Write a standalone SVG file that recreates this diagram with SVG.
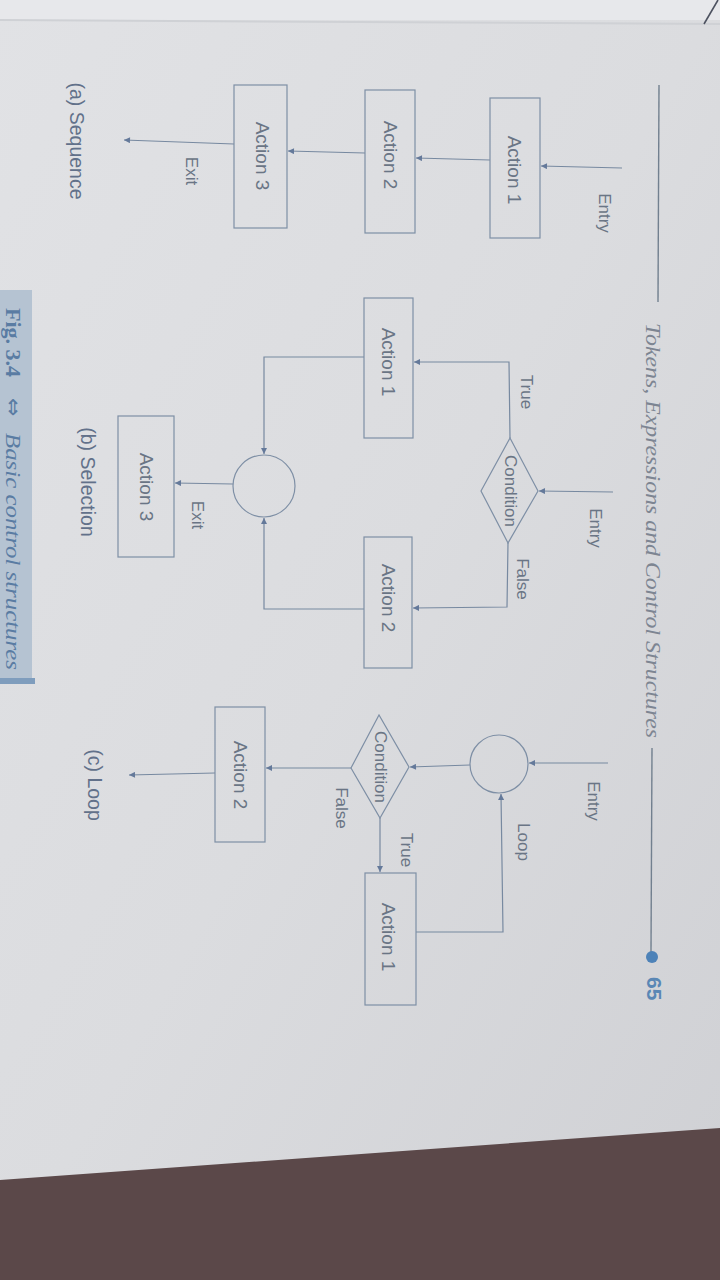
<svg xmlns="http://www.w3.org/2000/svg" width="720" height="1280" viewBox="0 0 720 1280">
  <defs>
    <linearGradient id="paper" x1="0" y1="0" x2="1" y2="1">
      <stop offset="0" stop-color="#e1e2e5"/>
      <stop offset="0.5" stop-color="#dbdcdf"/>
      <stop offset="1" stop-color="#cfd0d4"/>
    </linearGradient>
    <marker id="arr" viewBox="0 0 10 10" refX="10" refY="5" markerWidth="7" markerHeight="6" markerUnits="userSpaceOnUse" orient="auto">
      <path d="M0,0 L10,5 L0,10 z" fill="#64799a"/>
    </marker>
    <style>
      .ln { fill: none; stroke: #7789a0; stroke-width: 1.2; }
      .box { fill: none; stroke: #7e8fa5; stroke-width: 1.2; }
      .lbl { font-family: "Liberation Sans", Arial, sans-serif; fill: #6a7585; text-anchor: middle; dominant-baseline: central; }
      .act { font-size: 19px; }
      .sm { font-size: 17px; }
      .cap { font-size: 19.5px; fill: #62718a; }
      .hdr { font-family: "Liberation Serif", "Times New Roman", serif; font-style: italic; fill: #7d8592; }
      .fig { font-family: "Liberation Serif", "Times New Roman", serif; fill: #5a7ca3; font-size: 22px; }
      .sym { font-family: "DejaVu Sans", sans-serif; fill: #5a7ca3; font-size: 22px; }
    </style>
  </defs>

  <!-- paper and background -->
  <rect x="0" y="0" width="720" height="1280" fill="url(#paper)"/>
  <rect x="0" y="0" width="720" height="20" fill="#e7e8eb"/>
  <path d="M0,20 L720,24" stroke="#cfd1d5" stroke-width="2" fill="none"/>
  <path d="M704,24 Q711,12 718,0" stroke="#4d5260" stroke-width="1.6" fill="none"/>
  <polygon points="0,1180 720,1128 720,1280 0,1280" fill="#5b4849"/>

  <!-- page header -->
  <g id="header">
    <line x1="659" y1="85" x2="658" y2="302" stroke="#72808f" stroke-width="1.4"/>
    <text class="hdr" font-size="21" transform="translate(646,323) rotate(90)" textLength="415" lengthAdjust="spacingAndGlyphs">Tokens, Expressions and Control Structures</text>
    <line x1="652" y1="748" x2="651" y2="952" stroke="#72808f" stroke-width="1.4"/>
    <circle cx="652" cy="957" r="6" fill="#4d82b8"/>
    <text transform="translate(647,977) rotate(90)" font-family="Liberation Sans, Arial, sans-serif" font-weight="bold" font-size="21" fill="#5a87b5">65</text>
  </g>

  <!-- figure caption -->
  <g id="caption">
    <rect x="0" y="290" width="32" height="392" fill="#b5c3d2"/>
    <rect x="0" y="678" width="35" height="6" fill="#7f9dbd"/>
    <text class="fig" font-weight="bold" transform="translate(6,308) rotate(90)">Fig. 3.4</text>
    <text class="sym" transform="translate(6,398) rotate(90)">⇔</text>
    <text class="fig" font-style="italic" transform="translate(6,433) rotate(90)" textLength="237" lengthAdjust="spacingAndGlyphs">Basic control structures</text>
  </g>

  <!-- connectors -->
  <g id="connectors">
    <!-- (a) sequence -->
    <line class="ln" x1="622" y1="168" x2="541" y2="166" marker-end="url(#arr)"/>
    <line class="ln" x1="490" y1="160" x2="416" y2="158" marker-end="url(#arr)"/>
    <line class="ln" x1="365" y1="153" x2="288" y2="151" marker-end="url(#arr)"/>
    <line class="ln" x1="234" y1="144" x2="124" y2="140" marker-end="url(#arr)"/>
    <!-- (b) selection -->
    <line class="ln" x1="613" y1="492" x2="539" y2="491" marker-end="url(#arr)"/>
    <polyline class="ln" points="510,438 509,362 414,362" marker-end="url(#arr)"/>
    <polyline class="ln" points="508,543 507,607 413,608" marker-end="url(#arr)"/>
    <polyline class="ln" points="364,357 264,357 264,454" marker-end="url(#arr)"/>
    <polyline class="ln" points="364,609 264,609 264,518" marker-end="url(#arr)"/>
    <line class="ln" x1="233" y1="484" x2="175" y2="483" marker-end="url(#arr)"/>
    <!-- (c) loop -->
    <line class="ln" x1="608" y1="763" x2="529" y2="763" marker-end="url(#arr)"/>
    <line class="ln" x1="470" y1="765" x2="410" y2="767" marker-end="url(#arr)"/>
    <line class="ln" x1="380" y1="818" x2="380" y2="872" marker-end="url(#arr)"/>
    <polyline class="ln" points="416,932 503,932 501,794" marker-end="url(#arr)"/>
    <line class="ln" x1="351" y1="768" x2="266" y2="768" marker-end="url(#arr)"/>
    <line class="ln" x1="215" y1="773" x2="129" y2="775" marker-end="url(#arr)"/>
  </g>

  <!-- (a) Sequence -->
  <g id="a_entry"><text class="lbl sm" transform="translate(604,213) rotate(90)">Entry</text></g>
  <g id="a_action1">
    <rect class="box" x="490" y="98" width="50" height="140"/>
    <text class="lbl act" transform="translate(514,170) rotate(90)">Action 1</text>
  </g>
  <g id="a_action2">
    <rect class="box" x="365" y="90" width="50" height="143"/>
    <text class="lbl act" transform="translate(390,155) rotate(90)">Action 2</text>
  </g>
  <g id="a_action3">
    <rect class="box" x="234" y="85" width="53" height="143"/>
    <text class="lbl act" transform="translate(262,156) rotate(90)">Action 3</text>
  </g>
  <g id="a_exit"><text class="lbl sm" transform="translate(191,171) rotate(90)">Exit</text></g>
  <g id="a_caption"><text class="lbl cap" transform="translate(77,141) rotate(90)">(a) Sequence</text></g>

  <!-- (b) Selection -->
  <g id="b_entry"><text class="lbl sm" transform="translate(595,528) rotate(90)">Entry</text></g>
  <g id="b_condition">
    <polygon class="box" points="538,491 510,438 481,491 508,543"/>
    <text class="lbl sm" transform="translate(510,491) rotate(90)">Condition</text>
  </g>
  <g id="b_true"><text class="lbl sm" transform="translate(526,392) rotate(90)">True</text></g>
  <g id="b_false"><text class="lbl sm" transform="translate(522,579) rotate(90)">False</text></g>
  <g id="b_action1">
    <rect class="box" x="364" y="298" width="49" height="140"/>
    <text class="lbl act" transform="translate(388,362) rotate(90)">Action 1</text>
  </g>
  <g id="b_action2">
    <rect class="box" x="364" y="537" width="48" height="131"/>
    <text class="lbl act" transform="translate(388,598) rotate(90)">Action 2</text>
  </g>
  <g id="b_join"><circle class="box" cx="264" cy="486" r="31"/></g>
  <g id="b_exit"><text class="lbl sm" transform="translate(197,515) rotate(90)">Exit</text></g>
  <g id="b_action3">
    <rect class="box" x="118" y="416" width="56" height="141"/>
    <text class="lbl act" transform="translate(146,487) rotate(90)">Action 3</text>
  </g>
  <g id="b_caption"><text class="lbl cap" transform="translate(88,482) rotate(90)">(b) Selection</text></g>

  <!-- (c) Loop -->
  <g id="c_entry"><text class="lbl sm" transform="translate(593,801) rotate(90)">Entry</text></g>
  <g id="c_join"><circle class="box" cx="499" cy="764" r="29"/></g>
  <g id="c_loop"><text class="lbl sm" transform="translate(523,842) rotate(90)">Loop</text></g>
  <g id="c_condition">
    <polygon class="box" points="409,767 379,715 351,768 380,818"/>
    <text class="lbl sm" transform="translate(380,767) rotate(90)">Condition</text>
  </g>
  <g id="c_true"><text class="lbl sm" transform="translate(406,850) rotate(90)">True</text></g>
  <g id="c_false"><text class="lbl sm" transform="translate(341,808) rotate(90)">False</text></g>
  <g id="c_action1">
    <rect class="box" x="365" y="873" width="51" height="132"/>
    <text class="lbl act" transform="translate(388,937) rotate(90)">Action 1</text>
  </g>
  <g id="c_action2">
    <rect class="box" x="215" y="707" width="50" height="135"/>
    <text class="lbl act" transform="translate(240,775) rotate(90)">Action 2</text>
  </g>
  <g id="c_caption"><text class="lbl cap" transform="translate(95,785) rotate(90)">(c) Loop</text></g>
</svg>
